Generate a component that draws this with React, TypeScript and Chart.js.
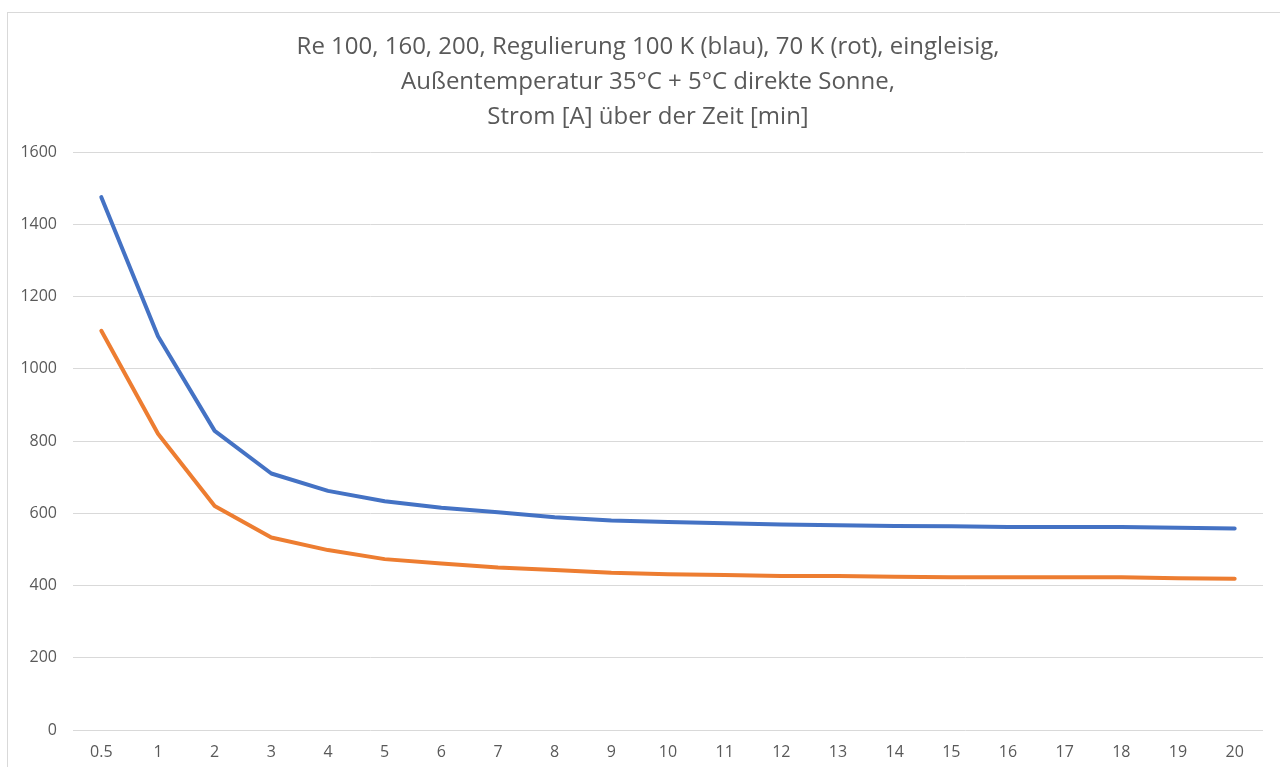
import React, { useEffect, useRef } from "react";
import { Chart, registerables } from "chart.js";

Chart.register(...registerables);

// Time axis categories [min]
const minutes = ["0.5", "1", "2", "3", "4", "5", "6", "7", "8", "9", "10", "11", "12", "13", "14", "15", "16", "17", "18", "19", "20"];

// Current [A] with 100 K regulation (blue)
const current100K = [1475, 1090, 828, 710, 662, 633, 615, 603, 589, 580, 576, 572, 569, 567, 565, 564, 562, 562, 562, 560, 558];

// Current [A] with 70 K regulation (orange)
const current70K = [1105, 820, 620, 533, 498, 473, 461, 450, 443, 435, 431, 429, 426, 426, 424, 423, 423, 423, 423, 420, 419];

const yMin = 0;
const yMax = 1600;
const yStep = 200;

const titleLines = [
  "Re 100, 160, 200, Regulierung 100 K (blau), 70 K (rot), eingleisig,",
  "Außentemperatur 35°C + 5°C direkte Sonne,",
  "Strom [A] über der Zeit [min]",
];

const textColor = "#595959";
const gridColor = "#d9d9d9";
const fontFamily = "'Open Sans', 'Noto Sans', sans-serif";

// Paints the white background and the frame around the chart object
const framePlugin = {
  id: "chartFrame",
  beforeDraw(chart: Chart) {
    const ctx = chart.ctx;
    ctx.save();
    ctx.fillStyle = "#ffffff";
    ctx.fillRect(0, 0, chart.width, chart.height);
    ctx.strokeStyle = gridColor;
    ctx.lineWidth = 1;
    ctx.strokeRect(7.5, 12.5, chart.width + 20, chart.height + 20);
    ctx.restore();
  },
};

export default function App() {
  const canvasRef = useRef<HTMLCanvasElement | null>(null);

  useEffect(() => {
    const canvas = canvasRef.current;
    if (!canvas) return;
    const chart = new Chart(canvas, {
      type: "line",
      data: {
        labels: minutes,
        datasets: [
          {
            label: "100 K",
            data: current100K,
            borderColor: "#4472C4",
            backgroundColor: "#4472C4",
            borderWidth: 4,
            pointRadius: 0,
            tension: 0,
            borderCapStyle: "round",
            borderJoinStyle: "round",
          },
          {
            label: "70 K",
            data: current70K,
            borderColor: "#ED7D31",
            backgroundColor: "#ED7D31",
            borderWidth: 4,
            pointRadius: 0,
            tension: 0,
            borderCapStyle: "round",
            borderJoinStyle: "round",
          },
        ],
      },
      options: {
        responsive: false,
        animation: false,
        devicePixelRatio: 1,
        layout: { padding: { top: 12, left: 16, right: 0, bottom: 0 } },
        plugins: {
          legend: { display: false },
          tooltip: { enabled: false },
          title: {
            display: true,
            text: titleLines,
            color: textColor,
            font: { family: fontFamily, size: 24, weight: "normal", lineHeight: 35 / 24 },
            padding: { top: 18, bottom: 17 },
          },
        },
        scales: {
          x: {
            type: "category",
            offset: true,
            grid: { display: false, drawTicks: false },
            border: { display: false },
            ticks: {
              color: textColor,
              font: { family: fontFamily, size: 16 },
              padding: 13,
              maxRotation: 0,
              autoSkip: false,
            },
            afterFit(scale: any) {
              scale.height = 37;
            },
          },
          y: {
            min: yMin,
            max: yMax,
            grid: { color: gridColor, lineWidth: 1, drawTicks: false },
            border: { display: false },
            ticks: {
              stepSize: yStep,
              color: textColor,
              font: { family: fontFamily, size: 16 },
              padding: 16,
              callback: (value: any) => String(value),
            },
            afterFit(scale: any) {
              scale.width = 57;
            },
          },
          // empty margin on the right side of the plot
          rightMargin: {
            type: "linear",
            position: "right",
            grid: { display: false, drawTicks: false },
            border: { display: false },
            ticks: { display: false },
            afterFit(scale: any) {
              scale.width = 17;
            },
          },
        },
      },
      plugins: [framePlugin],
    });
    return () => chart.destroy();
  }, []);

  return (
    <div style={{ position: "fixed", left: 0, top: 0, width: 1280, height: 767, overflow: "hidden", background: "#fff" }}>
      <canvas ref={canvasRef} width={1280} height={767} />
    </div>
  );
}
